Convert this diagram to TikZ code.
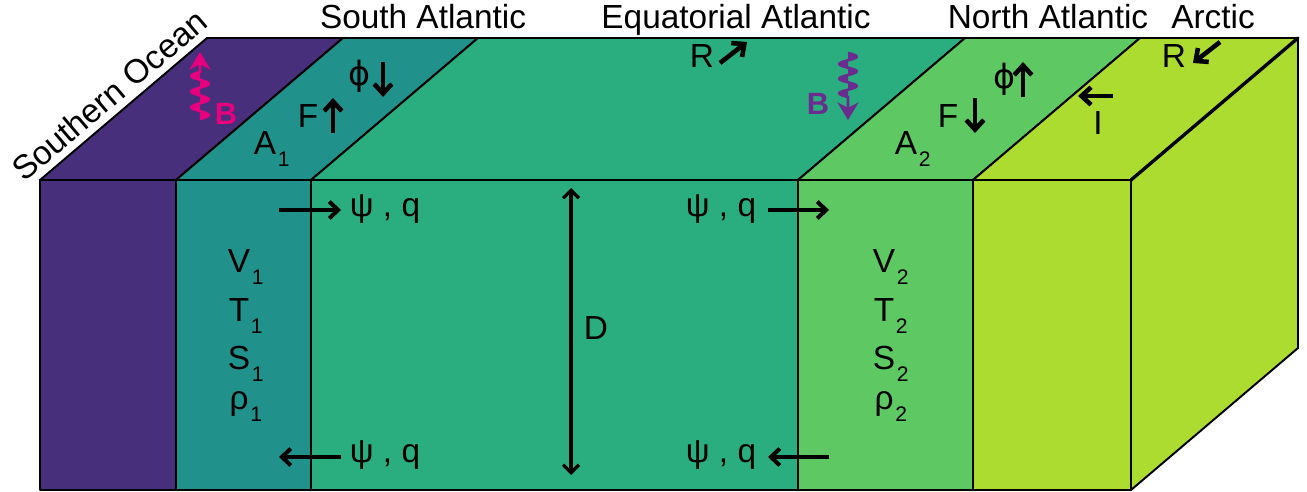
\documentclass[tikz,border=0pt]{standalone}
\usepackage{fontspec}
\setmainfont{Liberation Sans}
\newfontfamily\dvfont{DejaVu Sans}
\usetikzlibrary{arrows.meta}
\definecolor{cso}{HTML}{472F7C}
\definecolor{csa}{HTML}{21918C}
\definecolor{ceq}{HTML}{2AAE80}
\definecolor{cna}{HTML}{5EC962}
\definecolor{car}{HTML}{ADDC30}
\definecolor{cpink}{HTML}{E5007E}
\definecolor{cpurp}{HTML}{6A2C8E}
\newcommand\mysub[1]{\rlap{\kern1pt\raisebox{-6.8pt}{\fontsize{12}{12}\selectfont #1}}}
\begin{document}
\begin{tikzpicture}[x=0.02cm,y=-0.02cm,
  face/.style={draw=black,line width=1.1pt,line join=round},
  lbl/.style={font=\fontsize{19}{22}\selectfont,inner sep=0pt,anchor=base},
  blbl/.style={font=\fontsize{17.5}{20}\selectfont\bfseries,inner sep=0pt,anchor=base},
  philbl/.style={font=\fontsize{19}{22}\dvfont,inner sep=0pt,anchor=center},
  thk/.style={line width=2.6pt,-{Straight Barb[length=5.5pt,width=10pt]}},
  psiarr/.style={line width=2.3pt,-{Straight Barb[length=5pt,width=9.5pt]}},
  wavy/.style={line width=1.5pt,-{Stealth[length=10pt,width=12pt,inset=3pt]}}]
\useasboundingbox (0,0) rectangle (1307,492);
% front faces
\draw[face,fill=cso] (40,180) rectangle (176,490);
\draw[face,fill=csa] (176,180) rectangle (311,490);
\draw[face,fill=ceq] (311,180) rectangle (798,490);
\draw[face,fill=cna] (798,180) rectangle (973,490);
\draw[face,fill=car] (973,180) rectangle (1131,490);
% right face
\draw[face,fill=car] (1131,180) -- (1298,38) -- (1298,348) -- (1131,490) -- cycle;
% top faces
\draw[face,fill=cso] (40,180) -- (176,180) -- (343,38) -- (207,38) -- cycle;
\draw[face,fill=csa] (176,180) -- (311,180) -- (478,38) -- (343,38) -- cycle;
\draw[face,fill=ceq] (311,180) -- (798,180) -- (965,38) -- (478,38) -- cycle;
\draw[face,fill=cna] (798,180) -- (973,180) -- (1140,38) -- (965,38) -- cycle;
\draw[face,fill=car] (973,180) -- (1131,180) -- (1298,38) -- (1140,38) -- cycle;
\draw[line width=1.9pt,line cap=round] (1131,180) -- (1298,38);
% titles
\node[lbl] (tSA) at (423,29) {South Atlantic};
\node[lbl] (tEQ) at (736,29) {Equatorial Atlantic};
\node[lbl] (tNA) at (1048,29) {North Atlantic};
\node[lbl] (tAR) at (1213,29) {Arctic};
\node[lbl,rotate=40.4] (tSO) at (117,104) {Southern Ocean};
% top face labels
\node[blbl,text=cpink] (B1) at (226,125) {B};
\draw[wavy,draw=cpink,fill=cpink] plot[domain=119:72,samples=90,smooth] ({200+8.7*sin((119-\x)/15.667*360)},\x) -- (200,52);
\node[lbl] (A1) at (265,155) {A\mysub{1}};
\node[lbl] (F1) at (308,128) {F};
\draw[thk] (333,133) -- (333,98);
\node[philbl] (phi1) at (360,76) {ϕ};
\draw[thk] (383,62) -- (383,97);
\node[lbl] (R1) at (702,68) {R};
\draw[thk] (720,63) -- (747,42);
\node[blbl,text=cpurp] (B2) at (818,115) {B};
\draw[wavy,draw=cpurp,fill=cpurp] plot[domain=53:97,samples=90,smooth] ({848+8.7*sin((\x-53)/14.667*360)},\x) -- (848,120);
\node[lbl] (A2) at (906,155) {A\mysub{2}};
\node[lbl] (F2) at (948,128) {F};
\draw[thk] (975,98) -- (975,133);
\node[philbl] (phi2) at (1004,79) {ϕ};
\draw[thk] (1023,97) -- (1023,62);
\node[lbl] (I) at (1098,135) {I};
\draw[thk] (1113,96) -- (1078,96);
\node[lbl] (R2) at (1174,68) {R};
\draw[thk] (1220,42) -- (1193,63);
% front labels
\draw[psiarr] (279,210) -- (341,210);
\node[lbl] (pq1) at (385,217) {ψ , q};
\draw[psiarr] (341,457) -- (279,457);
\node[lbl] (pq2) at (385,463) {ψ , q};
\draw[psiarr] (768,210) -- (829,210);
\node[lbl] (pq3) at (721,217) {ψ , q};
\draw[psiarr] (829,457) -- (768,457);
\node[lbl] (pq4) at (721,463) {ψ , q};
\draw[line width=1.9pt,{Straight Barb[length=4.5pt,width=9pt]}-{Straight Barb[length=4.5pt,width=9pt]}] (571,188) -- (571,475);
\node[lbl] (D) at (596,340) {D};
% state variables
\node[lbl] (V1) at (239,273) {V\mysub{1}};
\node[lbl] (T1) at (239,322) {T\mysub{1}};
\node[lbl] (S1) at (239,370) {S\mysub{1}};
\node[lbl] (r1) at (239,410) {ρ\mysub{1}};
\node[lbl] (V2) at (884,273) {V\mysub{2}};
\node[lbl] (T2) at (884,322) {T\mysub{2}};
\node[lbl] (S2) at (884,370) {S\mysub{2}};
\node[lbl] (r2) at (884,410) {ρ\mysub{2}};
\end{tikzpicture}
\end{document}
